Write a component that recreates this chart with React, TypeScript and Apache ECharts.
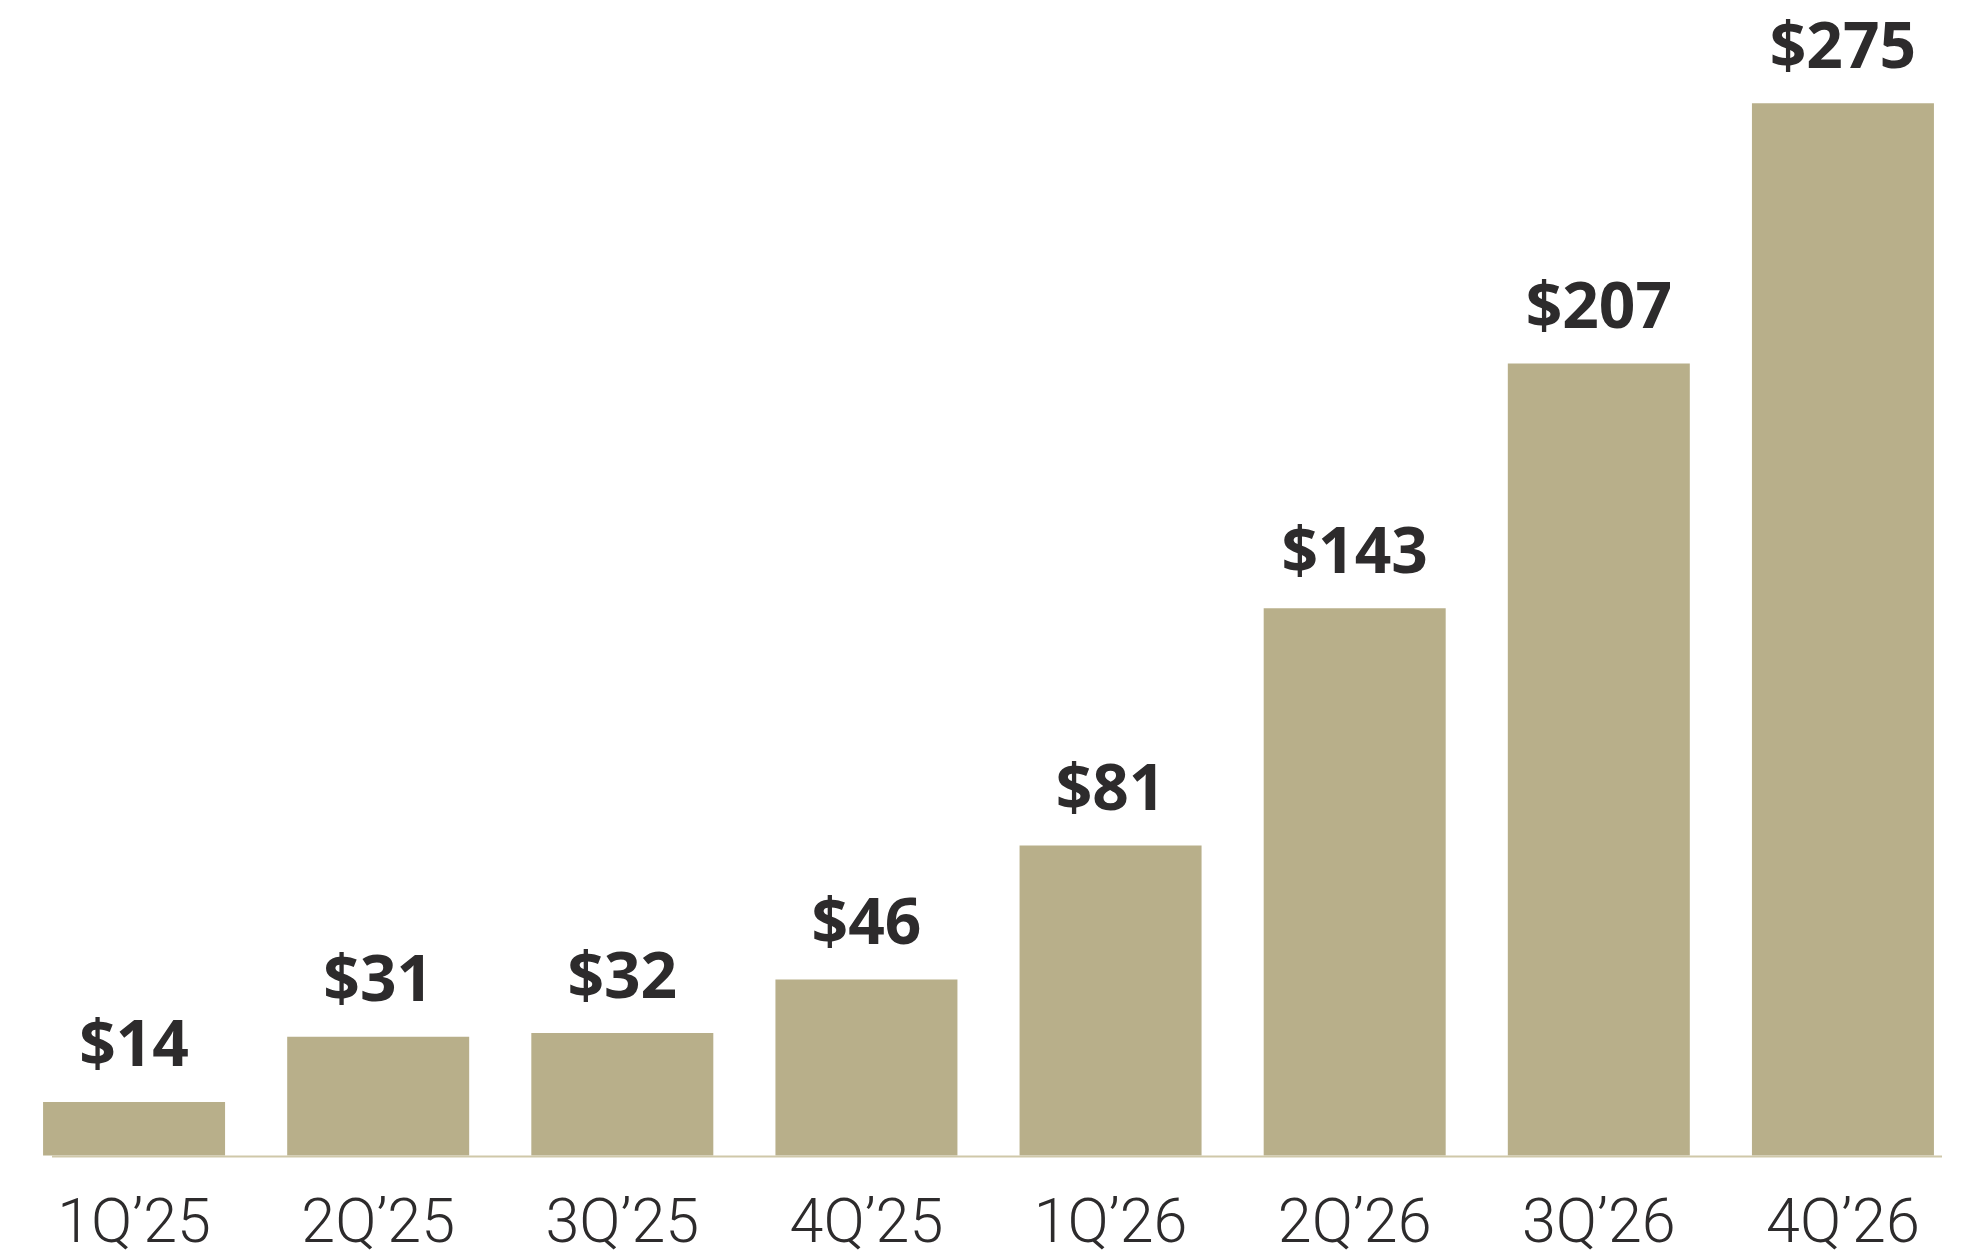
import React, { useEffect, useRef } from "react";
import * as echarts from "echarts";

const categories = ["1Q\u201925", "2Q\u201925", "3Q\u201925", "4Q\u201925", "1Q\u201926", "2Q\u201926", "3Q\u201926", "4Q\u201926"];
const values = [14, 31, 32, 46, 81, 143, 207, 275];

const BAR_COLOR = "#B8AF8A";
const AXIS_COLOR = "#CFC8A9";
const TEXT_COLOR = "#2D2B2C";

export default function App() {
  const ref = useRef<HTMLDivElement>(null);
  useEffect(() => {
    if (!ref.current) return;
    const chart = echarts.init(ref.current, null, { renderer: "svg" });
    chart.setOption({
      animation: false,
      backgroundColor: "#ffffff",
      grid: { left: 12, right: 12, top: 7.5, bottom: 103.5, containLabel: false },
      xAxis: {
        type: "category",
        data: categories,
        axisLine: { show: false },
        axisTick: { show: false },
        axisLabel: {
          color: TEXT_COLOR,
          fontFamily: "Roboto",
          fontWeight: 300,
          fontSize: 61,
          lineHeight: 56,
          margin: 37,
        },
      },
      yAxis: {
        type: "value",
        min: 0,
        max: 300,
        show: false,
        splitLine: { show: false },
      },
      series: [
        {
          type: "bar",
          data: values,
          barWidth: 182,
          itemStyle: { color: BAR_COLOR },
          label: {
            show: true,
            position: "top",
            distance: 28,
            formatter: (p: any) => "$" + p.value,
            color: TEXT_COLOR,
            fontFamily: "Open Sans",
            fontWeight: 700,
            fontSize: 64,
            lineHeight: 64,
          },
        },
      ],
      graphic: [
        {
          type: "line",
          shape: { x1: 52, y1: 1156.5, x2: 1942, y2: 1156.5 },
          style: { stroke: AXIS_COLOR, lineWidth: 2 },
          z: 10,
        },
      ],
    });
    return () => chart.dispose();
  }, []);
  return (
    <div
      ref={ref}
      style={{ position: "fixed", left: 0, top: 0, width: 1977, height: 1259 }}
    />
  );
}
